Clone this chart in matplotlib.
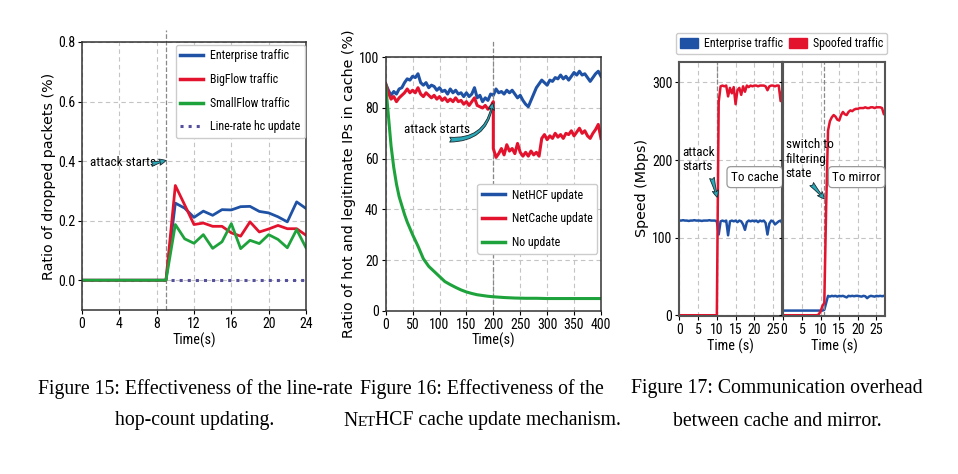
import numpy as np
import matplotlib
matplotlib.use('Agg')
import matplotlib.pyplot as plt
from matplotlib import font_manager
from matplotlib.patches import Patch
from matplotlib.lines import Line2D
from matplotlib.offsetbox import TextArea, HPacker, AnnotationBbox

# ---------------- Figure 15 data ----------------
t15 = [0, 1, 2, 3, 4, 5, 6, 7, 8, 9, 10, 11, 12, 13, 14, 15, 16, 17, 18, 19, 20, 21, 22, 23, 24]
enterprise15 = [0, 0, 0, 0, 0, 0, 0, 0, 0, 0,
                0.259, 0.242, 0.211, 0.232, 0.218, 0.237, 0.236, 0.247, 0.248, 0.231,
                0.226, 0.213, 0.196, 0.263, 0.241]
bigflow15 = [0, 0, 0, 0, 0, 0, 0, 0, 0, 0,
             0.318, 0.253, 0.187, 0.192, 0.181, 0.181, 0.159, 0.148, 0.196, 0.162,
             0.172, 0.184, 0.173, 0.173, 0.151]
smallflow15 = [0, 0, 0, 0, 0, 0, 0, 0, 0, 0,
               0.187, 0.139, 0.124, 0.153, 0.107, 0.129, 0.190, 0.106, 0.134, 0.123,
               0.153, 0.137, 0.109, 0.170, 0.109]
linerate15 = [0, 0, 0, 0, 0, 0, 0, 0, 0, 0,
              0, 0, 0, 0, 0, 0, 0, 0, 0, 0,
              0, 0, 0, 0, 0]
labels15 = ['Enterprise traffic', 'BigFlow traffic', 'SmallFlow traffic', 'Line-rate hc update']

# ---------------- Figure 16 data ----------------
t16 = list(range(0, 401, 5))
nethcf16 = [89.5, 87, 85, 86.5, 85.5, 87.5, 88, 90, 91.5, 91,
            92.5, 92, 93.5, 90, 89, 90, 88, 89, 88.5, 87,
            88, 86.5, 87, 85.5, 87.5, 86, 87, 85.5, 86, 84.5,
            86, 84.5, 85.5, 88, 84, 85, 82.5, 84, 83, 85.5,
            85, 87.5, 86, 86.5, 85.5, 87, 86, 87, 85.5, 84,
            85, 83, 81.5, 80.5, 83, 85.5, 88, 89.5, 91, 90,
            89, 91, 90.5, 92, 91.5, 93, 91.5, 92.5, 91, 92.5,
            94, 93, 94.5, 93, 93.5, 92, 90.5, 92, 93.5, 94.5,
            92.5]
t16_pre = list(range(0, 201, 5))
netcache16_pre = [89.5, 86, 83.5, 84.5, 82.5, 84, 85, 86, 87.5, 86,
                  87, 86, 88, 85.5, 84.5, 86, 85, 84, 85, 83.5,
                  84.5, 83, 84, 82.5, 83.5, 82.5, 84, 82.5, 83, 81.5,
                  82.5, 81, 82.5, 84, 81, 80.5, 80, 81, 79.5, 80.5,
                  82.5]
t16_post = list(range(200, 401, 5))
netcache16_post = [64, 60.5, 62, 64, 61.5, 65.5, 63, 64, 62, 66,
                   62.5, 61, 62.5, 61, 63, 61.5, 62.5, 61, 68, 69.5,
                   67.5, 69, 68, 70, 68.5, 69.5, 68, 70, 69.5, 71,
                   69, 70.5, 72, 70, 71, 69, 68, 70, 71.5, 73.5,
                   68]
t16_green = [0, 5, 10, 15, 20, 25, 30, 35, 40, 50, 60, 70, 80, 90, 100, 110, 120, 130,
             140, 150, 160, 170, 180, 190, 200, 220, 240, 260, 280, 300, 350, 400]
noupdate16 = [89, 77, 65, 56.5, 50, 45, 41.5, 38, 35, 30, 25.5, 20.5, 17.5, 15.5, 13.5, 11.5,
              10.3, 9.2, 8.2, 7.4, 6.8, 6.3, 6.0, 5.7, 5.5, 5.2, 5.0, 4.9, 4.9, 4.8, 4.8, 4.8]
labels16 = ['NetHCF update', 'NetCache update', 'No update']

# ---------------- Figure 17 data ----------------
t17 = [i * 0.5 for i in range(56)]
cache_ent = [122, 122, 122.5, 122, 122, 121.5, 122, 122, 122.5, 122,
             122, 122, 121.5, 122, 122, 122, 122.5, 122, 122, 122,
             121, 104, 121, 122, 121, 122, 103, 121, 122, 121,
             122, 120, 122, 121, 117, 110, 120, 122, 121, 122,
             121, 122, 120, 122, 121, 122, 119, 104, 118, 122,
             121, 117, 119, 121, 122, 118]
cache_spoof = [0, 0, 0, 0, 0, 0, 0, 0, 0, 0,
               0, 0, 0, 0, 0, 0, 0, 0, 0, 0,
               0, 275, 295, 296, 295, 296, 282, 293, 286, 294,
               272, 290, 293, 284, 295, 288, 296, 294, 296, 295,
               296, 296, 295, 296, 296, 296, 295, 290, 295, 296,
               296, 295, 296, 296, 276, 292]
mirror_ent = [6, 6, 6, 6, 6, 6, 6, 6, 6, 6,
              6, 6, 6, 6, 6, 6, 6, 6, 6, 6,
              6, 6, 7, 16, 25, 24, 25, 24.5, 25, 24,
              25, 24.5, 25, 24, 23, 25, 24.5, 25, 24.5, 25,
              25, 24.5, 24, 25, 24.5, 22, 24, 25, 24.5, 24,
              25, 24.5, 25, 24.5, 25, 24]
mirror_spoof = [0, 0, 0, 0, 0, 0, 0, 0, 0, 0,
                0, 0, 0, 0, 0, 0, 0, 0, 0, 1,
                5, 12, 16, 140, 238, 250, 255, 258, 256, 252,
                251, 258, 262, 259, 258, 262, 264, 263, 265, 266,
                266, 267, 267, 267, 268, 267, 267, 268, 268, 267,
                268, 268, 268, 267, 259, 262]
labels17 = ['Enterprise traffic', 'Spoofed traffic']

captions = [
    ('Figure 15: Effectiveness of the line-rate', 'hop-count updating.'),
    ('Figure 16: Effectiveness of the', 'NETHCF cache update mechanism.'),
    ('Figure 17: Communication overhead', 'between cache and mirror.'),
]

# ---------------- style ----------------
BLUE = '#1f52a5'
RED = '#e3132e'
GREEN = '#1ea33c'
PURPLE = '#55509c'
TEAL = '#2aa9b8'
GRIDC = '#c4c4c4'

# pick the narrowest sans available
entries = font_manager.fontManager.ttflist
names = {f.name for f in entries}
NARROW, STRETCH = None, 'normal'
for cand in ['Roboto Condensed', 'Liberation Sans Narrow', 'Noto Sans Condensed',
             'DejaVu Sans Condensed', 'Open Sans Condensed']:
    if cand in names:
        NARROW = cand
        break
if NARROW is None:
    for fam in ['Roboto', 'Noto Sans', 'DejaVu Sans', 'Open Sans']:
        if any(f.name == fam and f.stretch in ('condensed', 'semi-condensed') and f.weight in (400, 'normal', 'regular')
               for f in entries):
            NARROW, STRETCH = fam, 'condensed'
            break
if NARROW is None:
    NARROW = 'Liberation Sans'

plt.rcParams['font.family'] = [NARROW, 'DejaVu Sans']
plt.rcParams['font.stretch'] = STRETCH
plt.rcParams['axes.edgecolor'] = '#333333'
plt.rcParams['axes.linewidth'] = 1.1

fig = plt.figure(figsize=(9.58, 4.74), dpi=100)
renderer = fig.canvas.get_renderer()


def fit_size(text, target_px, **kw):
    p = fig.text(0, 0, text, fontsize=10, **kw)
    w = p.get_window_extent(renderer).width
    p.remove()
    return 10 * target_px / w


BASE = fit_size('Enterprise traffic', 78)
BASE = min(BASE, 10.5)
YLAB = fit_size('Ratio of dropped packets (%)', 208, family=['DejaVu Sans'], stretch='normal')
TICK = fit_size('0.8', 14.5) * 1.18
plt.rcParams['xtick.labelsize'] = TICK
plt.rcParams['ytick.labelsize'] = TICK
ANN = BASE * 1.12
XLAB = BASE * 1.2


def style_axes(ax):
    ax.grid(True, color=GRIDC, linestyle=(0, (4, 3)), linewidth=0.8)
    ax.set_axisbelow(True)
    ax.tick_params(length=3, width=0.8, pad=2)


def fancy_arrow(ax, tail, head, rad=0.0):
    ax.annotate('', xy=head, xytext=tail,
                arrowprops=dict(arrowstyle='fancy,head_length=0.5,head_width=0.45,tail_width=0.35',
                                fc=TEAL, ec='#1a2a30', lw=0.6,
                                connectionstyle='arc3,rad=%g' % rad,
                                shrinkA=0, shrinkB=0))


ylab_font = dict(family=['DejaVu Sans'], stretch='normal', fontsize=YLAB)
leg_kw = dict(fontsize=BASE, handlelength=1.9, handletextpad=0.6, framealpha=1,
              edgecolor='#cccccc', fancybox=True, borderaxespad=0)

# ---------------- Panel 1 ----------------
ax1 = fig.add_axes([0.0856, 0.346, 0.2338, 0.5654])
style_axes(ax1)
ax1.plot(t15, linerate15, color=PURPLE, linestyle=':', lw=2.2, zorder=1.5)
ax1.plot(t15, enterprise15, color=BLUE, lw=2.0, zorder=2)
ax1.plot(t15, bigflow15, color=RED, lw=2.0, zorder=2.1)
ax1.plot(t15, smallflow15, color=GREEN, lw=2.0, zorder=2.2)
ax1.axvline(9, ymin=0, ymax=1.045, color='#888888', ls='--', lw=0.9, clip_on=False)
ax1.set_xlim(0, 24)
ax1.set_ylim(-0.1, 0.8)
ax1.set_xticks(range(0, 25, 4))
ax1.set_yticks([0.0, 0.2, 0.4, 0.6, 0.8])
ax1.set_yticklabels(['0.0', '0.2', '0.4', '0.6', '0.8'])
ax1.set_xlabel('Time(s)', fontsize=XLAB, labelpad=1)
ax1.set_ylabel('Ratio of dropped packets (%)', **ylab_font)
ax1.yaxis.set_label_coords(-0.118, 0.5)
ax1.text(0.9, 0.395, 'attack starts', fontsize=ANN, va='center', ha='left')
fancy_arrow(ax1, (7.45, 0.39), (9.0, 0.402))
h15 = [Line2D([], [], color=BLUE, lw=2.5), Line2D([], [], color=RED, lw=2.5),
       Line2D([], [], color=GREEN, lw=2.5), Line2D([], [], color=PURPLE, lw=2.2, ls=':')]
ax1.legend(h15, labels15, loc='upper right', bbox_to_anchor=(0.996, 0.99),
           labelspacing=0.9, **leg_kw)

# ---------------- Panel 2 ----------------
ax2 = fig.add_axes([0.4026, 0.3445, 0.2247, 0.5346])
style_axes(ax2)
ax2.plot(t16, nethcf16, color=BLUE, lw=2.2, zorder=2)
ax2.plot(t16_pre + t16_post, netcache16_pre + netcache16_post, color=RED, lw=2.2, zorder=2.1)
ax2.plot(t16_green, noupdate16, color=GREEN, lw=2.2, zorder=2.2)
ax2.axvline(200, ymin=0, ymax=1.067, color='#888888', ls='--', lw=0.9, clip_on=False)
ax2.set_xlim(0, 400)
ax2.set_ylim(0, 100)
ax2.set_xticks(range(0, 401, 50))
ax2.set_yticks(range(0, 101, 20))
ax2.set_xlabel('Time(s)', fontsize=XLAB, labelpad=1)
ax2.set_ylabel('Ratio of hot and legitimate IPs in cache (%)', **ylab_font)
ax2.yaxis.set_label_coords(-0.14, 0.5)
ax2.text(95, 71.5, 'attack starts', fontsize=ANN, va='center', ha='center')
fancy_arrow(ax2, (119, 67.5), (198.5, 82), rad=0.45)
h16 = [Line2D([], [], color=BLUE, lw=2.5), Line2D([], [], color=RED, lw=2.5),
       Line2D([], [], color=GREEN, lw=2.5)]
ax2.legend(h16, labels16, loc='lower right', bbox_to_anchor=(0.983, 0.225),
           labelspacing=0.9, **leg_kw)

# ---------------- Panel 3 ----------------
ax3a = fig.add_axes([0.7091, 0.3333, 0.1069, 0.5353])
ax3b = fig.add_axes([0.8177, 0.3333, 0.1061, 0.5353], sharey=ax3a)
for ax in (ax3a, ax3b):
    style_axes(ax)
    for s in ax.spines.values():
        s.set_color('#555555')
        s.set_linewidth(1.5)
    ax.set_xlim(0, 27.3)
    ax.set_xticks(range(0, 26, 5))
    ax.set_xlabel('Time (s)', fontsize=XLAB, labelpad=1)
ax3a.set_ylim(-1, 326)
ax3a.set_yticks([0, 100, 200, 300])
ax3b.tick_params(labelleft=False)

ax3a.plot(t17, cache_ent, color=BLUE, lw=1.8, zorder=2)
ax3a.plot(t17, cache_spoof, color=RED, lw=1.8, zorder=2.1)
ax3b.plot(t17, mirror_ent, color=BLUE, lw=1.8, zorder=2)
ax3b.plot(t17, mirror_spoof, color=RED, lw=1.8, zorder=2.1)
ax3a.axvline(10, color='#888888', ls='--', lw=0.9)
ax3b.axvline(11, color='#888888', ls='--', lw=0.9)
ax3a.set_ylabel('Speed (Mbps)', **ylab_font)
ax3a.yaxis.set_label_coords(-0.30, 0.505)

box = dict(boxstyle='round,pad=0.3', fc='white', ec='#999999', lw=0.9)
ax3a.text(20.1, 178, 'To cache', fontsize=ANN, ha='center', va='center', bbox=box)
ax3b.text(19.7, 178, 'To mirror', fontsize=ANN, ha='center', va='center', bbox=box)
ax3a.text(0.9, 201, 'attack\nstarts', fontsize=ANN, ha='left', va='center',
          linespacing=1.15)
fancy_arrow(ax3a, (8.7, 177), (10.1, 152))
ax3b.text(0.6, 201, 'switch to\nfiltering\nstate', fontsize=ANN, ha='left', va='center',
          linespacing=1.15)
fancy_arrow(ax3b, (7.6, 169), (11.0, 150))

h17 = [Patch(facecolor=BLUE, edgecolor=BLUE), Patch(facecolor=RED, edgecolor=RED)]
fig.legend(h17, labels17, ncol=2, loc='upper center',
           bbox_to_anchor=((678 + 885) / 2 / 958, 1 - 33 / 474),
           fontsize=BASE, handlelength=1.5, handleheight=0.9, columnspacing=0.5,
           handletextpad=0.5, framealpha=1, edgecolor='#cccccc', fancybox=True,
           borderaxespad=0, borderpad=0.35)

# ---------------- captions ----------------
capfont = dict(family='Liberation Serif', stretch='normal')
cap_size = fit_size(captions[0][0], 314, **capfont)

cap_x = [195, 482, 777]
y1 = 1 - 389 / 474
y2 = 1 - 421 / 474
for i, (l1, l2) in enumerate(captions):
    cx = cap_x[i] / 958
    fig.text(cx, y1, l1, fontsize=cap_size, ha='center', va='center', **capfont)
    if l2.startswith('NETHCF'):
        rest = l2[len('NETHCF'):]
        parts = [TextArea('N', textprops=dict(fontsize=cap_size, **capfont)),
                 TextArea('ET', textprops=dict(fontsize=cap_size * 0.75, **capfont)),
                 TextArea('HCF' + rest, textprops=dict(fontsize=cap_size, **capfont))]
        pack = HPacker(children=parts, align='baseline', pad=0, sep=0)
        ab = AnnotationBbox(pack, (cx, y2), xycoords='figure fraction', frameon=False,
                            box_alignment=(0.5, 0.5), pad=0)
        fig.add_artist(ab)
    else:
        fig.text(cx, y2, l2, fontsize=cap_size, ha='center', va='center', **capfont)

fig.savefig('out.png', dpi=100)
